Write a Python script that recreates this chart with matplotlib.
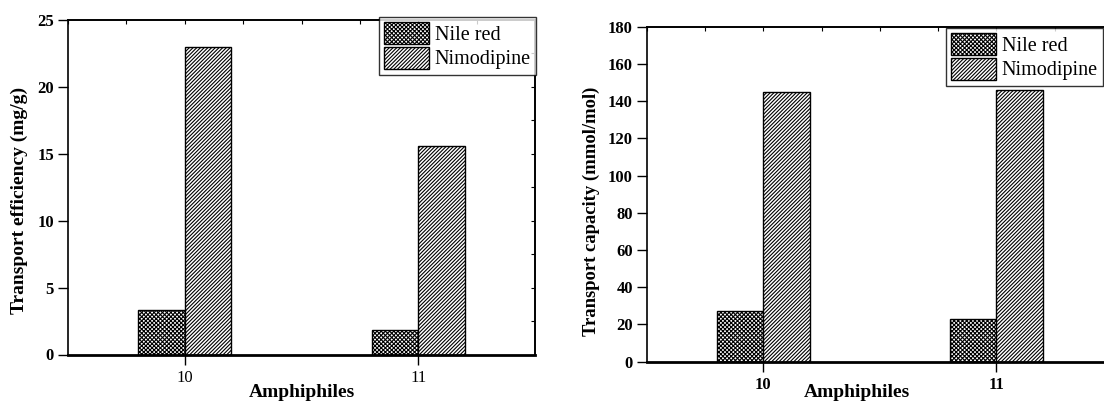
import matplotlib
matplotlib.use("Agg")
import matplotlib.pyplot as plt
import numpy as np
from matplotlib.ticker import MultipleLocator

plt.rcParams['font.family'] = ['Liberation Serif', 'DejaVu Serif']
plt.rcParams['hatch.linewidth'] = 0.8
plt.rcParams['hatch.color'] = 'black'

# Data
amphiphiles = ["10", "11"]
series_names = ["Nile red", "Nimodipine"]
efficiency_nile_red = [3.3, 1.85]
efficiency_nimodipine = [23.0, 15.55]
capacity_nile_red = [27.4, 23.0]
capacity_nimodipine = [145.0, 145.8]
hatches = ["xxxxxxxx", "/////////"]

W, H = 1104, 405
fig = plt.figure(figsize=(W / 100, H / 100), dpi=100)


def box(l, r, t, b):
    return [l / W, (H - b) / H, (r - l) / W, (b - t) / H]


ax1 = fig.add_axes(box(68, 535, 20, 354.5))
ax2 = fig.add_axes(box(646.7, 1113, 26.7, 361.7))

x = np.arange(len(amphiphiles))
width = 0.2


def draw(ax, a, b, ymax, ystep, ylabel, ylab_size, bold_x, legend_anchor, ylab_xy, xlab_xy):
    bars = []
    for vals, off, h, name in zip([a, b], [-width / 2, width / 2], hatches, series_names):
        bars.append(ax.bar(x + off, vals, width, facecolor='white', edgecolor='black',
                           hatch=h, linewidth=1.0, label=name, zorder=2))
    ax.set_xlim(-0.5, 1.5)
    ax.set_ylim(0, ymax)
    ax.set_xticks(x)
    ax.set_xticklabels(amphiphiles, fontsize=12,
                       fontweight='bold' if bold_x else 'normal')
    ax.yaxis.set_major_locator(MultipleLocator(ystep))
    for lab in ax.get_yticklabels():
        lab.set_fontweight('bold')
        lab.set_fontsize(12)
    ax.tick_params(axis='x', direction='out', length=7, width=1, pad=4, top=False)
    ax.tick_params(axis='y', direction='out', length=7, width=1, pad=3, right=False)
    for s in ['left', 'top', 'right']:
        ax.spines[s].set_linewidth(1.2)
    ax.spines['bottom'].set_linewidth(2.0)

    # small inward ticks along the top and right frame
    sec_x = ax.secondary_xaxis('top')
    sec_x.set_xticks(np.arange(-0.5, 1.51, 0.25))
    sec_x.tick_params(direction='in', length=3, width=0.8, labeltop=False)
    sec_x.spines['top'].set_linewidth(1.2)
    sec_y = ax.secondary_yaxis('right')
    sec_y.set_yticks(np.arange(0, ymax + 1e-9, ystep / 2))
    sec_y.tick_params(direction='in', length=3, width=0.8, labelright=False)
    sec_y.spines['right'].set_linewidth(1.2)

    ax.set_ylabel(ylabel, fontsize=ylab_size, fontweight='bold')
    ax.yaxis.set_label_coords(*ylab_xy)
    ax.set_xlabel("Amphiphiles", fontsize=14, fontweight='bold')
    ax.xaxis.set_label_coords(*xlab_xy)

    leg = ax.legend(handles=bars, labels=series_names, loc='upper right',
                    bbox_to_anchor=(legend_anchor[0] / W, (H - legend_anchor[1]) / H),
                    bbox_transform=fig.transFigure, borderaxespad=0,
                    fontsize=14.5, frameon=True, fancybox=False, edgecolor='black',
                    handlelength=2.2, handleheight=1.3, handletextpad=0.3,
                    labelspacing=0.1, borderpad=0.25)
    leg.get_frame().set_linewidth(1.0)
    leg.set_zorder(5)


draw(ax1, efficiency_nile_red, efficiency_nimodipine, 25, 5,
     "Transport efficiency (mg/g)", 14, False, (536, 17), (-0.086, 0.46), (0.5, -0.088))
draw(ax2, capacity_nile_red, capacity_nimodipine, 180, 20,
     "Transport capacity (mmol/mol)", 13.4, True, (1103, 28), (-0.100, 0.45), (0.451, -0.067))

fig.savefig("out.png", dpi=100)
